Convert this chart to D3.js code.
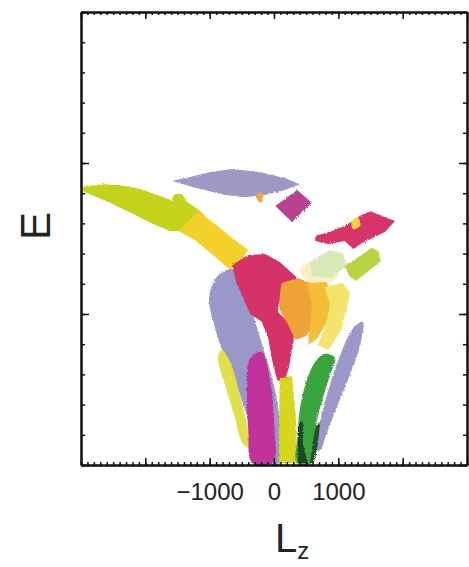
<!DOCTYPE html>
<html>
<head>
<meta charset="utf-8">
<script src="https://cdn.jsdelivr.net/npm/d3@7"></script>
<style>
  body { margin: 0; background: #fff; }
  svg { display: block; }
</style>
</head>
<body>
<svg class="elz"></svg>
<script>
// chart data: Lz (kpc km/s) and E (x10^5 km^2/s^2) outlines of each debris region
const lzLabelTicks = [-1000, 0, 1000];
const lzLabels = ['\u22121000', '0', '1000'];
const lzMajorTicks = [-3000, -2000, -1000, 0, 1000, 2000, 3000];
const eMajorTicks = [-1.5, -1.0, -0.5, 0];

const paleCream = [[400,-0.854],[720,-0.815],[990,-0.828],[950,-0.887],[560,-0.897]];
const chartreuseBand = [[-2970,-0.579],[-2700,-0.570],[-2390,-0.573],[-2080,-0.586],[-1770,-0.609],[-1590,-0.623],
  [-1550,-0.603],[-1430,-0.603],[-1350,-0.629],[-1150,-0.659],[-1070,-0.675],[-1430,-0.725],[-1620,-0.725],
  [-1880,-0.702],[-2190,-0.669],[-2550,-0.632],[-2910,-0.599],[-2970,-0.593]];
const goldBand = [[-1180,-0.659],[-920,-0.702],[-650,-0.748],[-400,-0.788],[-530,-0.828],[-680,-0.854],
  [-890,-0.815],[-1230,-0.755],[-1490,-0.725]];
const lavenderKite = [[-1590,-0.560],[-1310,-0.546],[-990,-0.530],[-650,-0.520],[-220,-0.530],[170,-0.550],
  [400,-0.570],[170,-0.589],[-140,-0.606],[-450,-0.613],[-760,-0.606],[-1150,-0.586]];
const orangeSpeck = [[-260,-0.603],[-170,-0.603],[-190,-0.629],[-250,-0.626]];
const magentaDiamond = [[360,-0.589],[590,-0.632],[280,-0.695],[20,-0.642]];
const crimsonFlag = [[640,-0.742],[870,-0.728],[1100,-0.709],[1340,-0.675],[1490,-0.659],[1880,-0.692],
  [1730,-0.728],[1370,-0.765],[1230,-0.785],[1100,-0.758],[840,-0.768],[640,-0.758]];
const yellowSpot = [[1210,-0.689],[1310,-0.682],[1340,-0.709],[1230,-0.719]];
const paleGreen = [[560,-0.828],[870,-0.788],[1070,-0.798],[1130,-0.841],[870,-0.881],[590,-0.874]];
const limeSmall = [[1100,-0.841],[1520,-0.781],[1620,-0.791],[1660,-0.825],[1270,-0.891],[1170,-0.874]];
const lavenderLeft = [[-960,-0.904],[-810,-0.861],[-590,-0.854],[-470,-0.921],[-310,-1.013],[-160,-1.119],
  [0,-1.235],[90,-1.351],[140,-1.490],[-190,-1.493],[-300,-1.417],[-450,-1.318],[-610,-1.219],[-780,-1.136],
  [-930,-1.036],[-1010,-0.954]];
const yellowStrip = [[-810,-1.119],[-680,-1.159],[-530,-1.268],[-400,-1.384],[-340,-1.444],[-470,-1.434],
  [-620,-1.334],[-760,-1.235],[-870,-1.146]];
const crimsonBig = [[-650,-0.838],[-400,-0.805],[-140,-0.801],[90,-0.828],[330,-0.874],[400,-0.897],[220,-0.921],
  [90,-0.954],[60,-0.993],[220,-1.026],[330,-1.060],[280,-1.119],[230,-1.179],[160,-1.225],[50,-1.219],
  [-30,-1.152],[-90,-1.079],[-190,-1.026],[-370,-1.000],[-480,-0.947],[-590,-0.894]];
const orangeBlob = [[120,-0.897],[370,-0.881],[640,-0.904],[750,-0.954],[680,-1.013],[500,-1.073],[330,-1.086],
  [220,-1.036],[90,-0.987],[90,-0.937]];
const amberBlob = [[510,-0.897],[820,-0.894],[920,-0.954],[840,-1.020],[680,-1.079],[530,-1.103],[560,-1.036],[590,-0.970]];
const lightYellow = [[790,-0.911],[1060,-0.897],[1180,-0.927],[1130,-0.987],[1030,-1.060],[840,-1.119],[680,-1.103],
  [810,-1.036],[870,-0.970]];
const lavenderRight = [[1260,-1.040],[1380,-1.026],[1340,-1.103],[1180,-1.202],[990,-1.301],[810,-1.401],[720,-1.450],
  [650,-1.450],[720,-1.351],[870,-1.235],[1030,-1.136],[1150,-1.076]];
const magentaStem = [[-370,-1.146],[-190,-1.126],[-60,-1.219],[0,-1.351],[-20,-1.493],[-340,-1.493],[-400,-1.384],[-420,-1.268]];
const yellowStem = [[90,-1.212],[280,-1.205],[340,-1.351],[360,-1.493],[80,-1.493],[80,-1.351]];
const greenStem = [[400,-1.318],[510,-1.219],[640,-1.159],[790,-1.132],[950,-1.146],[870,-1.202],[750,-1.285],
  [650,-1.368],[590,-1.493],[360,-1.493],[370,-1.401]];
const darkEdgeLeft = [[370,-1.368],[450,-1.351],[450,-1.434],[530,-1.493],[370,-1.493]];
const darkEdgeRight = [[650,-1.368],[720,-1.358],[680,-1.434],[620,-1.493],[560,-1.493],[610,-1.417]];

const width = 469;
const height = 567;
const margin = {top: 12, left: 81, right: 2, bottom: 102};

const svg = d3.select('.elz')
    .attr('width', width)
    .attr('height', height);

svg.append('rect').attr('width', width).attr('height', height).attr('fill', '#fff');

const x = d3.scaleLinear()
    .domain([-3000, 3000])
    .range([margin.left, width - margin.right]);

const y = d3.scaleLinear()
    .domain([-1.5, 0])
    .range([height - margin.bottom, margin.top]);

// rough edges like the scattered particles of the original
const defs = svg.append('defs');
const rough = defs.append('filter').attr('id', 'rough')
    .attr('x', '-5%').attr('y', '-5%').attr('width', '110%').attr('height', '110%');
rough.append('feTurbulence').attr('type', 'fractalNoise').attr('baseFrequency', 0.9).attr('numOctaves', 2).attr('result', 'noise');
rough.append('feDisplacementMap').attr('in', 'SourceGraphic').attr('in2', 'noise').attr('scale', 3).attr('result', 'disp');
rough.append('feGaussianBlur').attr('in', 'disp').attr('stdDeviation', 0.6);

// straight-edged patches vs. smooth petals
const sharp = d3.curveLinearClosed;
const soft = d3.curveCatmullRomClosed.alpha(0.5);

const layers = [
  [paleCream, '#f7efc6', soft],
  [chartreuseBand, '#c4d21c', sharp],
  [goldBand, '#f3d12a', sharp],
  [lavenderKite, '#9d98c4', sharp],
  [orangeSpeck, '#f2a93c', soft],
  [magentaDiamond, '#b8428f', sharp],
  [crimsonFlag, '#d7346b', sharp],
  [yellowSpot, '#f5d23a', soft],
  [paleGreen, '#d7e9b6', sharp],
  [limeSmall, '#b5d542', sharp],
  [lavenderLeft, '#9a98c8', soft],
  [yellowStrip, '#dfe04c', soft],
  [crimsonBig, '#d5316b', sharp],
  [orangeBlob, '#efa234', sharp],
  [amberBlob, '#f3bd35', sharp],
  [lightYellow, '#f2e46c', sharp],
  [lavenderRight, '#9b98c8', soft],
  [magentaStem, '#c2309b', soft],
  [yellowStem, '#d6d71e', sharp],
  [greenStem, '#3ba53c', soft],
  [darkEdgeLeft, '#1f4a24', sharp],
  [darkEdgeRight, '#23502a', sharp]
];

svg.append('g')
    .attr('filter', 'url(#rough)')
    .selectAll('path')
    .data(layers).enter()
    .append('path')
    .attr('d', d => d3.line().x(p => x(p[0])).y(p => y(p[1])).curve(d[2])(d[0]))
    .attr('fill', d => d[1]);

// axes, ticks pointing inward
const minorX = d3.range(-3000, 3001, 100);
const minorE = d3.range(-1.5, 0.001, 0.1);

function styleAxis(g) {
  g.selectAll('.domain').attr('stroke', '#111').attr('stroke-width', 2);
  g.selectAll('.tick line').attr('stroke', '#111').attr('stroke-width', 1.5);
}

const yBottom = y(-1.5);
const yTop = y(0);
const xLeft = x(-3000);
const xRight = x(3000);

svg.append('g')
    .attr('transform', `translate(0,${yBottom})`)
    .call(d3.axisBottom(x).tickValues(minorX).tickSize(-3).tickSizeOuter(0).tickFormat(''))
    .call(styleAxis);

svg.append('g')
    .attr('transform', `translate(0,${yBottom})`)
    .call(d3.axisBottom(x).tickValues(lzMajorTicks).tickSize(-7).tickSizeOuter(0).tickPadding(18)
        .tickFormat(d => { const i = lzLabelTicks.indexOf(d); return i < 0 ? '' : lzLabels[i]; }))
    .call(styleAxis)
    .call(g => g.selectAll('text')
        .attr('font-family', '"Liberation Sans", Arial, sans-serif')
        .attr('font-size', 24)
        .attr('fill', '#222'));

svg.append('g')
    .attr('transform', `translate(0,${yTop})`)
    .call(d3.axisTop(x).tickValues(minorX).tickSize(-3).tickSizeOuter(0).tickFormat(''))
    .call(styleAxis);

svg.append('g')
    .attr('transform', `translate(0,${yTop})`)
    .call(d3.axisTop(x).tickValues(lzMajorTicks).tickSize(-7).tickSizeOuter(0).tickFormat(''))
    .call(styleAxis);

[[d3.axisLeft, xLeft], [d3.axisRight, xRight]].forEach(([axisFn, pos]) => {
  svg.append('g')
      .attr('transform', `translate(${pos},0)`)
      .call(axisFn(y).tickValues(minorE).tickSize(-4).tickSizeOuter(0).tickFormat(''))
      .call(styleAxis);
  svg.append('g')
      .attr('transform', `translate(${pos},0)`)
      .call(axisFn(y).tickValues(eMajorTicks).tickSize(-8).tickSizeOuter(0).tickFormat(''))
      .call(styleAxis);
});

// axis titles
const xTitle = svg.append('text')
    .attr('x', 275)
    .attr('y', 552)
    .attr('font-family', '"Liberation Sans", Arial, sans-serif')
    .attr('font-size', 40)
    .attr('fill', '#222');
xTitle.append('tspan').text('L');
xTitle.append('tspan').attr('font-size', 24).attr('dy', 7).text('z');

svg.append('text')
    .attr('transform', 'translate(50,226) rotate(-90)')
    .attr('text-anchor', 'middle')
    .attr('font-family', '"Liberation Sans", Arial, sans-serif')
    .attr('font-size', 42)
    .attr('fill', '#222')
    .text('E');
</script>
</body>
</html>
